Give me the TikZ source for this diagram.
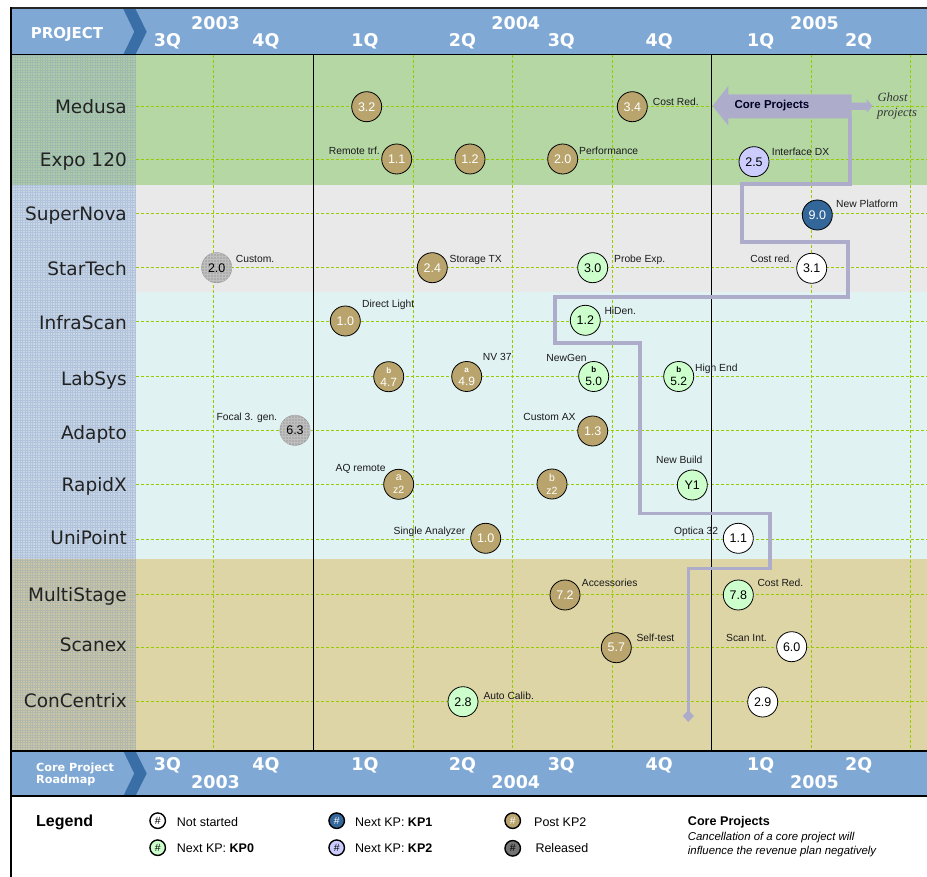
\documentclass[tikz,border=0pt]{standalone}
\usepackage{fontspec}
\setmainfont{Liberation Sans}
\newfontfamily\headfont{DejaVu Sans}
\newfontfamily\ghostfont{Liberation Serif}
\usepackage{tikz}
\usetikzlibrary{patterns,arrows.meta}

\definecolor{headBlue}{HTML}{7FA9D4}
\definecolor{chevBlue}{HTML}{3A6EA6}
\definecolor{bandGreen}{HTML}{B4D7A4}
\definecolor{bandGrey}{HTML}{E9E9E9}
\definecolor{bandCyan}{HTML}{E1F2F2}
\definecolor{bandTan}{HTML}{DDD5A5}
\definecolor{colGreen}{HTML}{AECBA9}
\definecolor{colBlue}{HTML}{C9D6E6}
\definecolor{colTan}{HTML}{CBC6A6}
\definecolor{meshBlue}{HTML}{6F8FC0}
\definecolor{gridGreen}{HTML}{99CC00}
\definecolor{coreGrey}{HTML}{ADADCB}
\definecolor{msTan}{HTML}{B8A46C}
\definecolor{msGreen}{HTML}{CCFFCC}
\definecolor{msLav}{HTML}{CCCCFF}
\definecolor{msBlue}{HTML}{336699}
\definecolor{msGrey}{HTML}{ADADAD}
\definecolor{rowText}{HTML}{222222}
\definecolor{tagText}{HTML}{1A1A1A}

\begin{document}
\begin{tikzpicture}[x=1pt,y=-1pt,
    ms/.style={circle,draw=black,line width=0.8pt,minimum size=30pt,inner sep=0pt,
      font=\fontsize{12.5}{13}\selectfont},
    postkp/.style={ms,fill=msTan,text=white},
    kpzero/.style={ms,fill=msGreen},
    kpone/.style={ms,fill=msBlue,text=white},
    kptwo/.style={ms,fill=msLav},
    notstarted/.style={ms,fill=white},
    released/.style={ms,draw=gray!75,fill=msGrey,postaction={pattern=grid,pattern color=black!25}},
    twoline/.style={align=center,font=\fontsize{12}{13.1}\selectfont},
    zline/.style={align=center,font=\fontsize{10.5}{12.8}\selectfont},
    tag/.style={font=\fontsize{10.3}{10.3}\selectfont,text=tagText,inner sep=0pt,text height=7.4pt,text depth=2pt},
    rowname/.style={font=\headfont\fontsize{18.5}{18.5}\selectfont,text=rowText,anchor=base east,inner sep=0pt},
    headtxt/.style={font=\headfont\bfseries\fontsize{17.5}{17.5}\selectfont,text=white,anchor=base,inner sep=0pt},
    gridline/.style={draw=gridGreen,dash pattern=on 3pt off 2pt,line width=0.9pt},
    corepath/.style={draw=coreGrey,line width=3.6pt},
    legdot/.style={circle,draw=black,line width=1.4pt,minimum size=15.5pt,inner sep=0pt,
      font=\fontsize{10.5}{10.5}\selectfont},
    legtxt/.style={font=\fontsize{12.5}{12.5}\selectfont,anchor=base west,inner sep=0pt}]
\useasboundingbox (0,0) rectangle (927,877);

% bands
\fill[bandGreen] (11,55) rectangle (927,185);
\fill[bandGrey] (11,185) rectangle (927,292.5);
\fill[bandCyan] (11,292.5) rectangle (927,559);
\fill[bandTan] (11,559) rectangle (927,750.5);
\fill[colGreen] (11,55) rectangle (136,185);
\fill[colBlue] (11,185) rectangle (136,559);
\fill[colTan] (11,559) rectangle (136,750.5);
\draw[step=2.5pt,meshBlue,line width=0.6pt,opacity=0.25] (11,750) grid (136,55);

% grid
\foreach \gx in {213.7,413.3,512.7,612.3,811.7,910.7}
  \draw[gridline] (\gx,55) -- (\gx,750);
\foreach \gy in {106.7,159,213.7,267.7,321,376.3,430.3,484.3,539,594.3,647.3,701.7}
  \draw[gridline] (136,\gy) -- (927,\gy);
\draw[black,line width=1pt] (313.3,55) -- (313.3,751);
\draw[black,line width=1pt] (711.3,55) -- (711.3,751);

% headers
\fill[headBlue] (11,9) rectangle (927,54.5);
\fill[chevBlue] (123.3,9) -- (135.5,9) -- (146.7,31.8) -- (135.5,54.5) -- (123.3,54.5) -- (134.3,31.8) -- cycle;
\fill[headBlue] (11,751) rectangle (927,796);
\fill[chevBlue] (123.3,751) -- (135.5,751) -- (146.7,773.5) -- (135.5,796) -- (123.3,796) -- (134.3,773.5) -- cycle;
\draw[black!85,line width=2.3pt] (10,7.8) -- (927,7.8);
\draw[black,line width=2.3pt] (11,6.7) -- (11,877);
\draw[black,line width=1.5pt] (11,54.5) -- (927,54.5);
\draw[black,line width=1.8pt] (11,751) -- (927,751);
\draw[black,line width=2pt] (11,796) -- (927,796);

\node[font=\headfont\bfseries\fontsize{15}{15}\selectfont,text=white,anchor=base,inner sep=0pt] (project) at (67,38.3) {PROJECT};
\node[headtxt] (yrA) at (215.5,29.3) {2003};
\node[headtxt] (yrB) at (515.8,29.3) {2004};
\node[headtxt] (yrC) at (814.5,29.3) {2005};
\node[headtxt] (qA) at (167.5,46.5) {3Q};
\node[headtxt] (qB) at (266,46.5) {4Q};
\node[headtxt] (qC) at (365,46.5) {1Q};
\node[headtxt] (qD) at (462.5,46.5) {2Q};
\node[headtxt] (qE) at (561.3,46.5) {3Q};
\node[headtxt] (qF) at (659.2,46.5) {4Q};
\node[headtxt] (qG) at (760.7,46.5) {1Q};
\node[headtxt] (qH) at (858.7,46.5) {2Q};

\node[font=\headfont\bfseries\fontsize{11.2}{11.2}\selectfont,text=white,anchor=base west,inner sep=0pt] (roadA) at (36,771) {Core Project};
\node[font=\headfont\bfseries\fontsize{11.2}{11.2}\selectfont,text=white,anchor=base west,inner sep=0pt] (roadB) at (36,783.3) {Roadmap};
\node[headtxt] (byrA) at (215.5,788.3) {2003};
\node[headtxt] (byrB) at (515.8,788.3) {2004};
\node[headtxt] (byrC) at (814.5,788.3) {2005};
\node[headtxt] (bqA) at (167.5,770.7) {3Q};
\node[headtxt] (bqB) at (266,770.7) {4Q};
\node[headtxt] (bqC) at (365,770.7) {1Q};
\node[headtxt] (bqD) at (462.5,770.7) {2Q};
\node[headtxt] (bqE) at (561.3,770.7) {3Q};
\node[headtxt] (bqF) at (659.2,770.7) {4Q};
\node[headtxt] (bqG) at (760.7,770.7) {1Q};
\node[headtxt] (bqH) at (858.7,770.7) {2Q};

% project names
\node[rowname] (rMedusa) at (127,113.3) {Medusa};
\node[rowname] (rExpo) at (127,166.7) {Expo 120};
\node[rowname] (rSuper) at (127,220.7) {SuperNova};
\node[rowname] (rStar) at (127,275.7) {StarTech};
\node[rowname] (rInfra) at (127,330) {InfraScan};
\node[rowname] (rLab) at (127,385) {LabSys};
\node[rowname] (rAdapto) at (127,439.3) {Adapto};
\node[rowname] (rRapid) at (127,491) {RapidX};
\node[rowname] (rUni) at (127,544.3) {UniPoint};
\node[rowname] (rMulti) at (127,601) {MultiStage};
\node[rowname] (rScan) at (127,651.7) {Scanex};
\node[rowname] (rCon) at (127,707.3) {ConCentrix};

% core projects
\fill[coreGrey] (712.5,106) -- (728.3,86) -- (728.3,94.3) -- (851.7,94.3) -- (851.7,102.7)
  -- (866.7,102.7) -- (866.7,99.3) -- (872.7,106) -- (866.7,112.7) -- (866.7,110)
  -- (851.7,110) -- (851.7,118.5) -- (728.3,118.5) -- (728.3,125.5) -- cycle;
\node[font=\bfseries\fontsize{11.5}{11.5}\selectfont,text=black!85!blue,inner sep=0pt] (coreLabel) at (772,106) {Core Projects};
\node[font=\ghostfont\itshape\fontsize{12.5}{12.5}\selectfont,text=black!80,anchor=base west,inner sep=0pt] (ghostA) at (877.5,101.7) {Ghost};
\node[font=\ghostfont\itshape\fontsize{12.5}{12.5}\selectfont,text=black!80,anchor=base west,inner sep=0pt] (ghostB) at (877,116.7) {projects};
\draw[corepath,-{Diamond[length=12pt,width=11pt]}] (849.9,116) -- (849.9,184) -- (741.7,184)
  -- (741.7,242) -- (847.7,242) -- (847.7,297.3) -- (555,297.3) -- (555,343.3)
  -- (640,343.3) -- (640,513.3) -- (770,513.3) -- (770,568.3) -- (688.3,568.3) -- (688.3,722);

% Medusa
\node[postkp] (med32) at (366.7,106.7) {3.2};
\node[postkp] (med34) at (632.3,106.7) {3.4};
\node[tag,anchor=west] (medCost) at (652.7,102.5) {Cost Red.};
% Expo 120
\node[postkp] (exp11) at (396.7,159) {1.1};
\node[tag,anchor=east] (expRem) at (380,152) {Remote trf.};
\node[postkp] (exp12) at (470,159) {1.2};
\node[postkp] (exp20) at (562.7,159) {2.0};
\node[tag,anchor=west] (expPerf) at (579,152) {Performance};
\node[kptwo] (exp25) at (754,161.7) {2.5};
\node[tag,anchor=west] (expIf) at (771.7,153) {Interface DX};
% SuperNova
\node[kpone] (sup90) at (817.3,215) {9.0};
\node[tag,anchor=west] (supNew) at (836,204.5) {New Platform};
% StarTech
\node[released] (sta20) at (216.7,267.7) {2.0};
\node[tag,anchor=west] (staCust) at (235.7,260) {Custom.};
\node[postkp] (sta24) at (432.3,267.7) {2.4};
\node[tag,anchor=west] (staStor) at (449.5,260) {Storage TX};
\node[kpzero] (sta30) at (592.7,267.7) {3.0};
\node[tag,anchor=west] (staProbe) at (614,260) {Probe Exp.};
\node[notstarted] (sta31) at (811.7,268.3) {3.1};
\node[tag,anchor=east] (staCost) at (792.3,260) {Cost red.};
% InfraScan
\node[postkp] (inf10) at (345.3,321) {1.0};
\node[tag,anchor=west] (infDir) at (362,305) {Direct Light};
\node[kpzero] (inf12) at (585.3,320.3) {1.2};
\node[tag,anchor=west] (infHi) at (604.3,312) {HiDen.};
% LabSys
\node[postkp,twoline] (lab47) at (388.7,376.7) {{\fontsize{8}{8}\selectfont\bfseries b}\\4.7};
\node[postkp,twoline] (lab49) at (466.7,376.5) {{\fontsize{8}{8}\selectfont\bfseries a}\\4.9};
\node[tag,anchor=west] (labNV) at (482.7,357.7) {NV 37};
\node[kpzero,twoline] (lab50) at (593.7,376.5) {{\fontsize{8}{8}\selectfont\bfseries b}\\5.0};
\node[tag,anchor=east] (labNew) at (586.7,358.5) {NewGen};
\node[kpzero,twoline] (lab52) at (678.7,376.5) {{\fontsize{8}{8}\selectfont\bfseries b}\\5.2};
\node[tag,anchor=west] (labHigh) at (695,368.5) {High End};
% Adapto
\node[released] (ada63) at (295,430.3) {6.3};
\node[tag,anchor=east] (adaFoc) at (277.3,417.7) {Focal 3. gen.};
\node[postkp] (ada13) at (592.7,431) {1.3};
\node[tag,anchor=east] (adaCust) at (575.7,417.7) {Custom AX};
% RapidX
\node[postkp,zline] (rapA) at (398.7,484.3) {a\\z2};
\node[tag,anchor=east] (rapAQ) at (385.7,468.7) {AQ remote};
\node[postkp,zline] (rapB) at (552,484) {b\\z2};
\node[kpzero] (rapY1) at (692.3,485) {Y1};
\node[tag] (rapNew) at (679.3,460.3) {New Build};
% UniPoint
\node[postkp] (uni10) at (485.7,538.3) {1.0};
\node[tag,anchor=east] (uniSingle) at (465.5,531.5) {Single Analyzer};
\node[notstarted] (uni11) at (738.3,538.3) {1.1};
\node[tag,anchor=east] (uniOpt) at (718.3,531.5) {Optica 32};
% MultiStage
\node[postkp] (mul72) at (565,595) {7.2};
\node[tag,anchor=west] (mulAcc) at (581.7,583.3) {Accessories};
\node[kpzero] (mul78) at (738.3,595) {7.8};
\node[tag,anchor=west] (mulCost) at (757.3,583.3) {Cost Red.};
% Scanex
\node[postkp] (sca57) at (616.3,647.7) {5.7};
\node[tag,anchor=west] (scaSelf) at (636.3,638.3) {Self-test};
\node[notstarted] (sca60) at (791.7,646.7) {6.0};
\node[tag,anchor=east] (scaInt) at (767,638.3) {Scan Int.};
% ConCentrix
\node[kpzero] (con28) at (463,701.7) {2.8};
\node[tag,anchor=west] (conAuto) at (483.3,697) {Auto Calib.};
\node[notstarted] (con29) at (762.7,702) {2.9};

% legend
\node[font=\bfseries\fontsize{16}{16}\selectfont,anchor=base west,inner sep=0pt] (legend) at (36,826.7) {Legend};
\node[legdot,fill=white] (legNot) at (157.7,820.7) {\#};
\node[legtxt] (legNotT) at (176.7,826) {Not started};
\node[legdot,fill=msGreen] (legZero) at (157.7,847.7) {\#};
\node[legtxt] (legZeroT) at (176.7,852.7) {Next KP: \textbf{KP0}};
\node[legdot,fill=msBlue,text=white] (legOne) at (336.7,820.7) {\#};
\node[legtxt] (legOneT) at (355,826) {Next KP: \textbf{KP1}};
\node[legdot,fill=msLav] (legTwo) at (336.7,847.7) {\#};
\node[legtxt] (legTwoT) at (355,852.7) {Next KP: \textbf{KP2}};
\node[legdot,fill=msTan,text=white] (legPost) at (512.7,820.7) {\#};
\node[legtxt] (legPostT) at (534,826) {Post KP2};
\node[legdot,fill=black!55] (legRel) at (512.7,848.3) {\#};
\node[legtxt] (legRelT) at (535.3,852.7) {Released};
\node[font=\bfseries\fontsize{12.6}{12.6}\selectfont,anchor=base west,inner sep=0pt] (legCore) at (687.7,825.3) {Core Projects};
\node[font=\itshape\fontsize{11.4}{11.4}\selectfont,anchor=base west,inner sep=0pt] (legCoreA) at (687.7,840.3) {Cancellation of a core project will};
\node[font=\itshape\fontsize{11.4}{11.4}\selectfont,anchor=base west,inner sep=0pt] (legCoreB) at (687.7,854.3) {influence the revenue plan negatively};
\end{tikzpicture}
\end{document}
